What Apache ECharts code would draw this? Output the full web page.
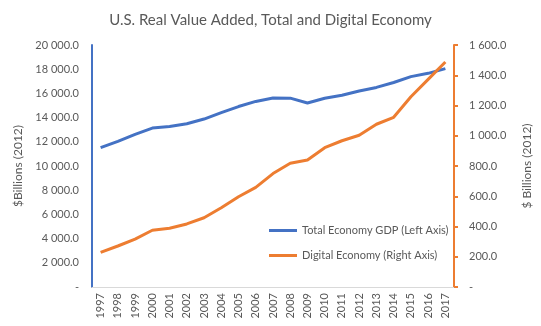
<!DOCTYPE html>
<html><head><meta charset="utf-8">
<script src="https://cdn.jsdelivr.net/npm/echarts@6/dist/echarts.min.js"></script>
<style>html,body{margin:0;padding:0;background:#fff}#c{width:541px;height:326px}</style>
</head><body><div id="c"></div>
<script>
const years = ['1997','1998','1999','2000','2001','2002','2003','2004','2005','2006','2007','2008','2009','2010','2011','2012','2013','2014','2015','2016','2017'];
const totalGDP = [11522,12038,12610,13131,13262,13493,13879,14406,14913,15338,15626,15605,15209,15599,15841,16197,16495,16900,17387,17659,18051];
const digitalEconomy = [229,271,317,375,388,417,458,524,597,659,750,818,840,921,967,1003,1076,1122,1258,1373,1488];
const seriesNames = ['Total Economy GDP (Left Axis)','Digital Economy (Right Axis)'];
const titleText = 'U.S. Real Value Added, Total and Digital Economy';

const FONT = 'Lato';
const TXT = '#595959';
function fmt(v){
  if (v === 0) return '-';
  const s = Math.round(v).toString().replace(/\B(?=(\d{3})+(?!\d))/g,' ');
  return s + '.0';
}
const chart = echarts.init(document.getElementById('c'));
chart.setOption({
  animation:false,
  textStyle:{fontFamily:FONT},
  title:{text:titleText,left:'center',top:8,textStyle:{fontFamily:FONT,fontSize:15,fontWeight:'normal',color:TXT}},
  grid:{left:92,right:75,top:45,bottom:39},
  legend:{orient:'vertical',left:264,top:220,itemWidth:28,itemHeight:3,itemGap:14,icon:'rect',
    textStyle:{fontFamily:FONT,fontSize:11,color:TXT},data:seriesNames},
  xAxis:{type:'category',data:years,boundaryGap:true,
    axisLine:{lineStyle:{color:'#d9d9d9',width:1}},axisTick:{show:false},
    axisLabel:{rotate:90,fontSize:11,color:TXT,fontFamily:FONT,interval:0,margin:6}},
  yAxis:[
    {type:'value',min:0,max:20000,interval:2000,position:'left',
     name:'$Billions (2012)',nameLocation:'middle',nameRotate:90,nameGap:55,
     nameTextStyle:{fontSize:12,color:TXT,fontFamily:FONT},
     axisLine:{show:true,lineStyle:{color:'#4472C4',width:2}},axisTick:{show:false},
     splitLine:{show:false},
     axisLabel:{formatter:fmt,fontSize:11,color:TXT,fontFamily:FONT,margin:13}},
    {type:'value',min:0,max:1600,interval:200,position:'right',
     name:'$ Billions (2012)',nameLocation:'middle',nameRotate:90,nameGap:67,
     nameTextStyle:{fontSize:12,color:TXT,fontFamily:FONT},
     axisLine:{show:true,lineStyle:{color:'#ED7D31',width:2}},
     axisTick:{show:true,inside:false,length:4,lineStyle:{color:'#ED7D31',width:2}},
     splitLine:{show:false},
     axisLabel:{formatter:fmt,fontSize:11,color:TXT,fontFamily:FONT,margin:15}}
  ],
  series:[
    {name:seriesNames[0],type:'line',yAxisIndex:0,data:totalGDP,symbol:'none',
     lineStyle:{color:'#4472C4',width:3},itemStyle:{color:'#4472C4'}},
    {name:seriesNames[1],type:'line',yAxisIndex:1,data:digitalEconomy,symbol:'none',
     lineStyle:{color:'#ED7D31',width:3},itemStyle:{color:'#ED7D31'}}
  ]
});
</script></body></html>
